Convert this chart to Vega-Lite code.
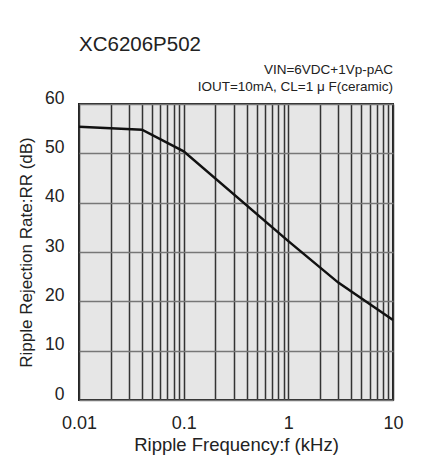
{
  "$schema": "https://vega.github.io/schema/vega-lite/v6.json",
  "width": 314,
  "height": 296,
  "autosize": {"type": "none"},
  "padding": {"left": 79, "top": 104, "right": 42, "bottom": 60},
  "background": "white",
  "config": {
    "font": "Liberation Sans",
    "view": {"fill": "#e6e6e6", "stroke": "#222", "strokeWidth": 2}
  },
  "title": {
    "text": "XC6206P502",
    "anchor": "start",
    "frame": "group",
    "fontSize": 20.5,
    "fontWeight": "normal",
    "color": "#222",
    "offset": 8
  },
  "layer": [
    {
      "data": {
        "values": [
          {"f": 0.01, "rr": 55.4},
          {"f": 0.04, "rr": 54.8},
          {"f": 0.1, "rr": 50.4},
          {"f": 1, "rr": 32.2},
          {"f": 3, "rr": 23.8},
          {"f": 10, "rr": 16.2}
        ]
      },
      "mark": {"type": "line", "color": "#111", "strokeWidth": 2.5},
      "encoding": {
        "x": {
          "field": "f",
          "type": "quantitative",
          "scale": {"type": "log", "domain": [0.01, 10]},
          "axis": {
            "values": [0.01, 0.02, 0.03, 0.04, 0.05, 0.06, 0.07, 0.08, 0.09, 0.1, 0.2, 0.3, 0.4, 0.5, 0.6, 0.7, 0.8, 0.9, 1, 2, 3, 4, 5, 6, 7, 8, 9, 10],
            "labelExpr": "indexof([0.01, 0.1, 1, 10], datum.value) >= 0 ? datum.label : ''",
            "format": "~g",
            "labelOverlap": false,
            "labelFlush": false,
            "grid": true,
            "gridColor": "#333",
            "gridWidth": 1.5,
            "gridOpacity": 1,
            "ticks": false,
            "domain": false,
            "labelFontSize": 18,
            "labelColor": "#222",
            "labelPadding": 14,
            "title": "Ripple Frequency:f (kHz)",
            "titleFontSize": 18.5,
            "titleFontWeight": "normal",
            "titleColor": "#222",
            "titlePadding": 3
          }
        },
        "y": {
          "field": "rr",
          "type": "quantitative",
          "scale": {"domain": [0, 60], "nice": false},
          "axis": {
            "values": [0, 10, 20, 30, 40, 50, 60],
            "grid": true,
            "gridColor": "#777",
            "gridWidth": 1.3,
            "gridOpacity": 1,
            "ticks": false,
            "domain": false,
            "labelFontSize": 17.5,
            "labelColor": "#222",
            "labelPadding": 15,
            "labelOffset": -6,
            "labelFlush": false,
            "title": "Ripple Rejection Rate:RR (dB)",
            "titleFontSize": 17,
            "titleFontWeight": "normal",
            "titleColor": "#222",
            "titlePadding": 9
          }
        }
      }
    },
    {
      "data": {
        "values": [
          {"t": "VIN=6VDC+1Vp-pAC", "f": 10, "y": 66},
          {"t": "IOUT=10mA, CL=1 μ F(ceramic)", "f": 10, "y": 62.7}
        ]
      },
      "mark": {"type": "text", "align": "right", "baseline": "alphabetic", "fontSize": 13.5, "color": "#222", "clip": false},
      "encoding": {
        "x": {"field": "f", "type": "quantitative"},
        "y": {"field": "y", "type": "quantitative"},
        "text": {"field": "t"}
      }
    }
  ]
}
